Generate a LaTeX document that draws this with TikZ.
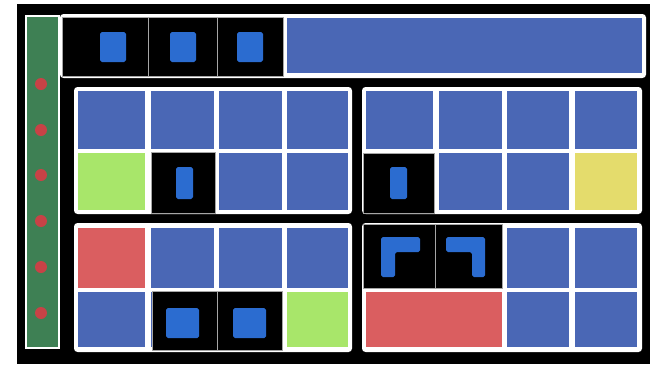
\documentclass[tikz,border=0pt]{standalone}
\usetikzlibrary{backgrounds}
\definecolor{gridblue}{RGB}{74,103,181}
\definecolor{pieceblue}{RGB}{43,108,208}
\definecolor{railgreen}{RGB}{62,128,84}
\definecolor{dotred}{RGB}{200,66,70}
\definecolor{goalgreen}{RGB}{168,230,106}
\definecolor{goalyellow}{RGB}{228,220,108}
\definecolor{blockred}{RGB}{218,94,96}
\tikzset{
  tile/.style={fill=gridblue},
  slot/.style={fill=black,draw=gray!70,line width=0.4pt},
  piece/.style={fill=pieceblue,rounded corners=1pt},
  panel/.style={fill=white,rounded corners=2pt},
  rail/.style={fill=railgreen,draw=white,line width=1.1pt}
}

\begin{document}
\begin{tikzpicture}[x=0.2mm,y=-0.2mm]
  \fill[white] (0,0) rectangle (656,364);
  \fill[black] (17,4) rectangle (650,364);
  % left rail with dots
  \draw[rail] (26,16) rectangle (59,348);
  \foreach \y in {84,130,175,221,267,313}
    \fill[dotred] (41,\y) circle (1.2mm);
  % top bar
  \fill[panel] (60,14) rectangle (646,78);
  \foreach \a/\b in {62/148,148/217,217/283}
    \draw[slot] (\a,17) rectangle (\b,76);
  \foreach \a in {100,170,237}
    \fill[piece] (\a,32) rectangle ++(26,30);
  \fill[tile] (287,18) rectangle (642,73);
  % four panels
  \fill[panel] (74,87) rectangle (352,214);
  \fill[panel] (362,87) rectangle (642,214);
  \fill[panel] (74,223) rectangle (352,352);
  \fill[panel] (362,223) rectangle (642,352);
  \foreach \c/\d in {91/149,153/210,228/288,292/347}{
    \foreach \a/\b in {78/145,151/214,219/282,287/348}
      \fill[tile] (\a,\c) rectangle (\b,\d);
    \foreach \a/\b in {366/433,439/502,507/569,575/637}
      \fill[tile] (\a,\c) rectangle (\b,\d);
  }
  % middle left
  \fill[goalgreen] (78,153) rectangle (145,210);
  \draw[slot] (151,152) rectangle (215,213);
  \fill[piece] (176,167) rectangle (193,199);
  % middle right
  \draw[slot] (363,153) rectangle (434,213);
  \fill[piece] (390,167) rectangle (407,199);
  \fill[goalyellow] (575,153) rectangle (637,210);
  % bottom left
  \fill[blockred] (78,228) rectangle (145,288);
  \draw[slot] (152,291) rectangle (217,350);
  \draw[slot] (217,291) rectangle (282,350);
  \fill[piece] (166,308) rectangle (199,338);
  \fill[piece] (233,308) rectangle (266,338);
  \fill[goalgreen] (287,292) rectangle (348,347);
  % bottom right
  \draw[slot] (363,224) rectangle (435,288);
  \draw[slot] (435,224) rectangle (502,288);
  \fill[piece] (381,277) -- (381,237) -- (420,237) -- (420,252)
    -- (395,252) -- (395,277) -- cycle;
  \fill[piece] (446,237) -- (485,237) -- (485,277) -- (472,277)
    -- (472,252) -- (446,252) -- cycle;
  \fill[blockred] (366,292) rectangle (502,347);
\end{tikzpicture}
\end{document}
